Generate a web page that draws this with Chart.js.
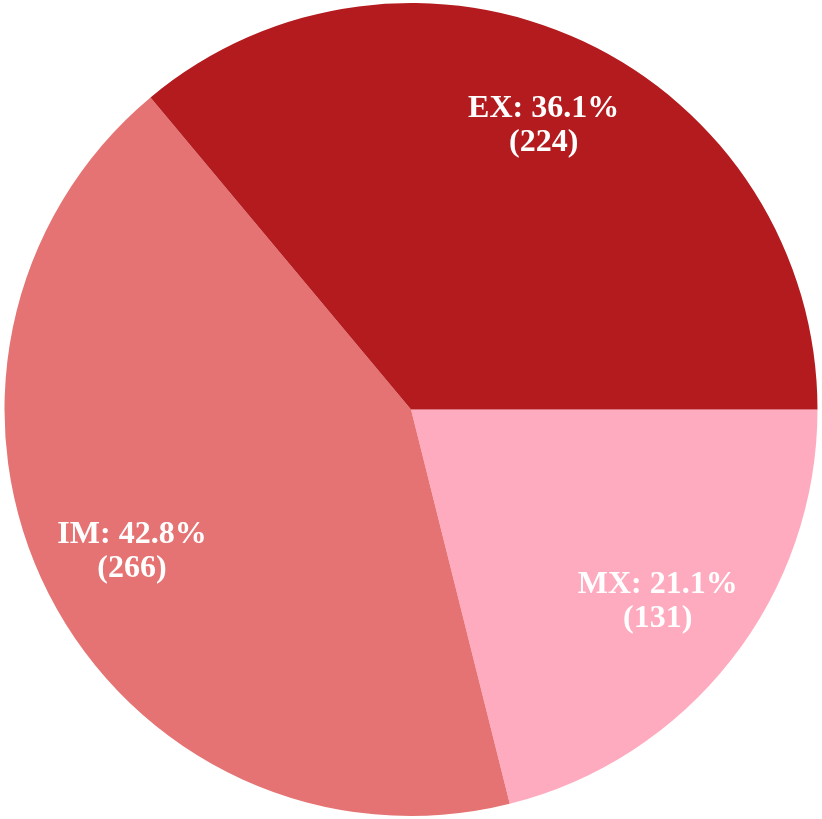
<!DOCTYPE html>
<html>
<head>
<meta charset="utf-8">
<script src="https://cdn.jsdelivr.net/npm/chart.js@4/dist/chart.umd.min.js"></script>
<style>
    html, body { margin: 0; padding: 0; background: #ffffff; }
    #wrap { width: 822px; height: 819px; }
</style>
</head>
<body>
<div id="wrap"><canvas id="pieChart"></canvas></div>
<script>
    // counter-clockwise order from 3 o'clock, as in the reference
    const categories = ["EX", "IM", "MX"];
    const counts = [224, 266, 131];
    const sliceColours = ["#b41b1e", "#e57373", "#ffabbf"];

    const total = counts.reduce((sum, value) => sum + value, 0);

    // Chart.js draws clockwise, so reverse and start at 3 o'clock
    const drawLabels = categories.slice().reverse();
    const drawCounts = counts.slice().reverse();
    const drawColours = sliceColours.slice().reverse();

    const sliceLabelPlugin = {
        id: "sliceLabels",
        afterDatasetsDraw(chart) {
            const ctx = chart.ctx;
            const meta = chart.getDatasetMeta(0);

            ctx.save();
            ctx.fillStyle = "#ffffff";
            ctx.font = "bold 32px 'Liberation Serif', 'Times New Roman', serif";
            ctx.textAlign = "center";
            ctx.textBaseline = "middle";

            meta.data.forEach((arc, index) => {
                const props = arc.getProps(["x", "y", "startAngle", "endAngle", "outerRadius"], true);
                const mid = (props.startAngle + props.endAngle) / 2;
                const dist = props.outerRadius * 0.77;
                const x = props.x + Math.cos(mid) * dist;
                const y = props.y + Math.sin(mid) * dist;
                const value = drawCounts[index];
                const pct = (value / total * 100).toFixed(1);

                ctx.fillText(drawLabels[index] + ": " + pct + "%", x, y - 17);
                ctx.fillText("(" + value + ")", x, y + 17);
            });

            ctx.restore();
        }
    };

    new Chart(document.getElementById("pieChart"), {
        type: "pie",
        data: {
            labels: drawLabels,
            datasets: [{
                data: drawCounts,
                backgroundColor: drawColours,
                borderWidth: 0
            }]
        },
        options: {
            responsive: true,
            maintainAspectRatio: false,
            animation: false,
            rotation: 90,
            layout: { padding: 3 },
            plugins: {
                legend: { display: false },
                tooltip: { enabled: false }
            }
        },
        plugins: [sliceLabelPlugin]
    });
</script>
</body>
</html>
